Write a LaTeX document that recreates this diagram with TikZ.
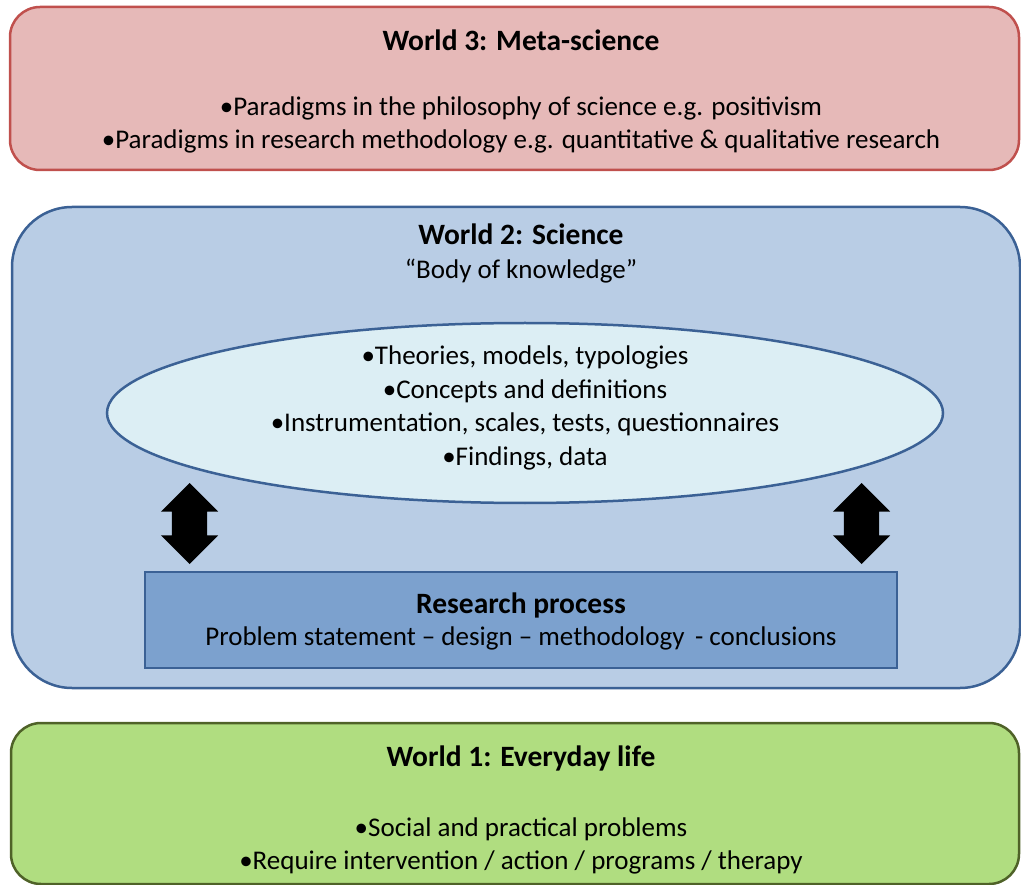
\documentclass[tikz,border=0pt]{standalone}
\usepackage{fontspec}
\setmainfont{Carlito}
\usepackage{xcolor}
\usepackage{tikz}
\usetikzlibrary{positioning,shapes.geometric,shapes.arrows}

\definecolor{metafill}{HTML}{E6B9B8}
\definecolor{metaline}{HTML}{C0504D}
\definecolor{scifill}{HTML}{B9CDE5}
\definecolor{sciline}{HTML}{3B6195}
\definecolor{bodyfill}{HTML}{DCEEF4}
\definecolor{procfill}{HTML}{7CA1CE}
\definecolor{lifefill}{HTML}{B0DD80}
\definecolor{lifeline}{HTML}{4F6228}

\begin{document}
\begin{tikzpicture}[x=1pt,y=-1pt,
                every node/.append style = {inner sep=0pt, font=\fontsize{27}{33.5}\selectfont},
                world/.style = {draw, line width=2.5pt, rounded corners=30pt},
                title/.style = {font=\fontsize{29.5}{34}\selectfont\bfseries},
                twoway/.style = {double arrow, fill=black, shape border rotate=90,
                                 minimum height=81pt, minimum width=0pt, inner xsep=17.5pt,
                                 double arrow head extend=11pt}]
            \useasboundingbox (0,0) rectangle (1021,885);
            % the three worlds
            \node[world, fill=metafill, draw=metaline, minimum width=1009pt, minimum height=163pt] (w3) at (514.5,88.5) {};
            \node[world, fill=scifill, draw=sciline, rounded corners=60pt, minimum width=1008pt, minimum height=481pt] (w2) at (516,447.5) {};
            \node[world, fill=lifefill, draw=lifeline, minimum width=1008pt, minimum height=161pt] (w1) at (515,803.5) {};
            % world 3
            \node[title] (t3) at (521,40) {World 3: Meta-science};
            \node[align=center] (l3) at (521,125) {•Paradigms in the philosophy of science e.g. positivism\\
                    •Paradigms in research methodology e.g. quantitative \& qualitative research};
            % world 2
            \node[title] (t2) at (521,234) {World 2: Science};
            \node (bok) at (521,271) {``Body of knowledge''};
            \node[ellipse, draw=sciline, line width=2.5pt, fill=bodyfill, minimum width=836pt, minimum height=180pt] (body) at (525,413) {};
            \node[align=center] (kn) at (525,408) {•Theories, models, typologies\\
                    •Concepts and definitions\\
                    •Instrumentation, scales, tests, questionnaires\\
                    •Findings, data};
            \node[draw=sciline, line width=2.5pt, fill=procfill, minimum width=752pt, minimum height=96pt] (proc) at (521,620) {};
            \node[title] (tp) at (521,605) {Research process};
            \node (steps) at (521,638) {Problem statement -- design -- methodology \,- conclusions};
            \node[twoway] (al) at (189.5,523.5) {};
            \node[twoway] (ar) at (861.5,523.5) {};
            % world 1
            \node[title] (t1) at (521,758) {World 1: Everyday life};
            \node[align=center] (l1) at (521,846) {•Social and practical problems\\
                    •Require intervention / action / programs / therapy};
\end{tikzpicture}
\end{document}
